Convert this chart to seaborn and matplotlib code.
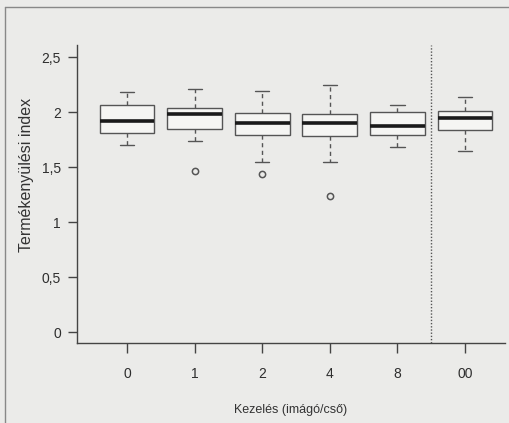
import numpy as np
import pandas as pd
import seaborn as sns
import matplotlib
matplotlib.use("Agg")
import matplotlib.pyplot as plt
from matplotlib.lines import Line2D

# ---- data ----
groups = ["0", "1", "2", "4", "8", "00"]
lower_whisker = [1.70, 1.74, 1.55, 1.55, 1.68, 1.65]
q1 = [1.81, 1.85, 1.79, 1.78, 1.79, 1.84]
median = [1.92, 1.98, 1.90, 1.90, 1.87, 1.95]
q3 = [2.06, 2.04, 1.99, 1.98, 2.00, 2.01]
upper_whisker = [2.18, 2.21, 2.19, 2.25, 2.06, 2.14]
outliers = [None, 1.46, 1.44, 1.24, None, None]

# build a small table per group whose quartiles / whiskers match the read values
rows = []
for g, lo, a, m, b, hi, out in zip(groups, lower_whisker, q1, median, q3,
                                    upper_whisker, outliers):
    low0 = out if out is not None else lo
    vals = [low0, lo, a, (a + m) / 2, m, (m + b) / 2, b, hi, hi]
    for v in vals:
        rows.append({"Kezelés": g, "index": v})
df = pd.DataFrame(rows)

bg = "#ebebe9"
sns.set_style("white")
plt.rcParams["font.family"] = ["Liberation Sans", "DejaVu Sans"]

fig = plt.figure(figsize=(5.09, 4.23), dpi=100, facecolor=bg)
ax = fig.add_axes([77 / 509, 1 - 343 / 423, 428 / 509, (343 - 45) / 423])
ax.set_facecolor(bg)

edge = "#555555"
sns.boxplot(
    data=df, x="Kezelés", y="index", order=groups, ax=ax,
    color="#f5f5f3", linecolor=edge, linewidth=1.0, width=0.81,
    whis=1.5,
    medianprops={"color": "#1a1a1a", "linewidth": 2.6},
    whiskerprops={"linestyle": (0, (3, 2.5)), "color": edge, "linewidth": 1.0},
    capprops={"color": edge, "linewidth": 1.0},
    flierprops={"marker": "o", "markerfacecolor": "none",
                "markeredgecolor": edge, "markersize": 4.5,
                "markeredgewidth": 1.1},
    capwidths=0.21,
)

ax.set_xlim(-0.74, 5.59)
ax.set_ylim(-0.1, 2.61)
ax.axvline(4.5, color="#555555", linestyle=(0, (1, 1.3)), linewidth=1.0)

ax.set_yticks([0, 0.5, 1, 1.5, 2, 2.5])
ax.set_yticklabels(["0", "0,5", "1", "1,5", "2", "2,5"])
for s in ["top", "right"]:
    ax.spines[s].set_visible(False)
for s in ["left", "bottom"]:
    ax.spines[s].set_color("#444444")
    ax.spines[s].set_linewidth(1.0)

ax.tick_params(axis="x", length=7, width=1.0, color="#444444", pad=10,
               labelsize=10, labelcolor="#2e2e2e", bottom=True)
ax.tick_params(axis="y", length=6.5, width=1.0, color="#444444", pad=5,
               labelsize=10, labelcolor="#2e2e2e", left=True)

ax.set_xlabel("Kezelés (imágó/cső)", fontsize=9, color="#333333", labelpad=17)
ax.set_ylabel("Termékenyülési index", fontsize=11.5, color="#333333")
ax.yaxis.set_label_coords(-0.117, 0.565)
ax.yaxis.label.set_va("center")

# outer scanned frame (top and left edges)
fig.add_artist(Line2D([5 / 509, 5 / 509], [0, 1 - 7 / 423],
                      transform=fig.transFigure, color="#888888", linewidth=1.0))
fig.add_artist(Line2D([5 / 509, 1], [1 - 7 / 423, 1 - 7 / 423],
                      transform=fig.transFigure, color="#888888", linewidth=1.0))

fig.savefig("out.png", dpi=100, facecolor=bg)
